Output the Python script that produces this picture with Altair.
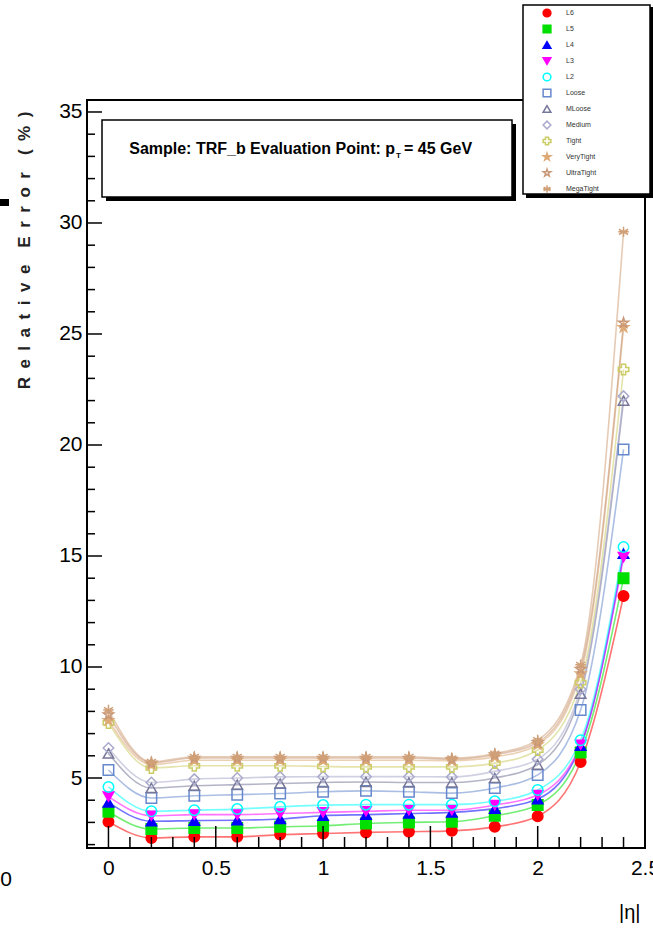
import altair as alt
import pandas as pd

# ---------------- data ----------------
eta = [0.0, 0.2, 0.4, 0.6, 0.8, 1.0, 1.2, 1.4, 1.6, 1.8, 2.0, 2.2, 2.4]
series = ["L6", "L5", "L4", "L3", "L2", "Loose", "MLoose", "Medium",
          "Tight", "VeryTight", "UltraTight", "MegaTight"]

L6 = [3.03, 2.30, 2.35, 2.35, 2.45, 2.50, 2.55, 2.58, 2.62, 2.80, 3.28, 5.72, 13.2]
L5 = [3.48, 2.70, 2.75, 2.75, 2.80, 2.85, 2.95, 3.00, 3.03, 3.30, 3.78, 6.15, 14.0]
L4 = [3.90, 3.05, 3.08, 3.10, 3.15, 3.30, 3.35, 3.40, 3.45, 3.62, 4.05, 6.45, 15.1]
L3 = [4.16, 3.30, 3.35, 3.35, 3.40, 3.45, 3.50, 3.55, 3.55, 3.78, 4.23, 6.50, 14.95]
L2 = [4.60, 3.50, 3.55, 3.60, 3.70, 3.78, 3.80, 3.80, 3.80, 3.95, 4.46, 6.70, 15.4]
Loose = [5.36, 4.10, 4.20, 4.25, 4.30, 4.38, 4.42, 4.38, 4.32, 4.55, 5.14, 8.06, 19.8]
MLoose = [6.10, 4.55, 4.65, 4.70, 4.75, 4.80, 4.82, 4.80, 4.80, 5.00, 5.60, 8.80, 22.0]
Medium = [6.35, 4.80, 4.95, 5.00, 5.05, 5.06, 5.06, 5.06, 5.05, 5.30, 5.85, 9.00, 22.2]
Tight = [7.48, 5.45, 5.55, 5.55, 5.55, 5.52, 5.50, 5.50, 5.50, 5.67, 6.26, 9.30, 23.4]
VeryTight = [7.60, 5.60, 5.80, 5.80, 5.80, 5.80, 5.80, 5.80, 5.78, 5.95, 6.50, 9.70, 25.3]
UltraTight = [7.85, 5.68, 5.90, 5.90, 5.90, 5.90, 5.90, 5.90, 5.85, 6.05, 6.60, 9.90, 25.5]
MegaTight = [8.06, 5.73, 5.96, 5.96, 5.96, 5.96, 5.96, 5.96, 5.89, 6.10, 6.71, 10.1, 29.6]

values = [L6, L5, L4, L3, L2, Loose, MLoose, Medium, Tight, VeryTight, UltraTight, MegaTight]

x_major = [0, 0.5, 1, 1.5, 2, 2.5]
x_minor = [-0.1, 0.1, 0.2, 0.3, 0.4, 0.6, 0.7, 0.8, 0.9, 1.1, 1.2, 1.3, 1.4,
           1.6, 1.7, 1.8, 1.9, 2.1, 2.2, 2.3, 2.4]
y_major = [5, 10, 15, 20, 25, 30, 35]
y_minor = [2, 3, 4, 6, 7, 8, 9, 11, 12, 13, 14, 16, 17, 18, 19, 21, 22, 23, 24,
           26, 27, 28, 29, 31, 32, 33, 34]

# ---------------- styles ----------------
colors = ["#ff0000", "#00e000", "#0000ff", "#ff00ff", "#00ffff", "#6688cc",
          "#777799", "#aaaacc", "#cccc66", "#ddaa77", "#c89878", "#d0a078"]
STAR = ("M0,-1L0.223,-0.307L0.951,-0.309L0.361,0.117L0.588,0.809L0,0.38"
        "L-0.588,0.809L-0.361,0.117L-0.951,-0.309L-0.223,-0.307Z")
ASTER = "M0,-1L0,1M-0.87,-0.5L0.87,0.5M-0.87,0.5L0.87,-0.5M-1,0L1,0"
shapes = ["circle", "square", "triangle-up", "triangle-down", "circle", "square",
          "triangle-up", "diamond", "cross", STAR, STAR, ASTER]
fills = ["#ff0000", "#00e000", "#0000ff", "#ff00ff", "transparent", "transparent",
         "transparent", "transparent", "transparent", "#ddaa77", "transparent", "transparent"]

SANS = "'Liberation Sans', Arial, sans-serif"

W, H = 558, 748

rows = []
for name, vals in zip(series, values):
    for e, v in zip(eta, vals):
        rows.append({"eta": e, "err": v, "series": name})
df = pd.DataFrame(rows)

xs = alt.Scale(domain=[-0.1, 2.5], nice=False, zero=False)
ys = alt.Scale(domain=[1.847, 35.54], nice=False, zero=False)
cscale = alt.Scale(domain=series, range=colors)
sscale = alt.Scale(domain=series, range=shapes)
fscale = alt.Scale(domain=series, range=fills)

EN = "\u2002"
ytitle = (EN.join(list("Relative")) + EN + EN + EN.join(list("Error")) + EN + EN + EN.join(list("(%)")))

xaxis = alt.Axis(values=x_major, format="~g", ticks=False, tickSize=0, domain=False, grid=False,
                 labelFont=SANS, labelFontSize=21, labelPadding=9, labelColor="black",
                 labelFlush=False, labelOverlap=False, zindex=2,
                 title="|η|", titleFont=SANS, titleFontSize=20, titleFontWeight="normal",
                 titleX=553, titleY=64, titleAlign="right", titleBaseline="middle",
                 titleColor="black")
yaxis = alt.Axis(values=y_major, ticks=False, tickSize=0, domain=False, grid=False,
                 labelFont=SANS, labelFontSize=21, labelPadding=5, labelColor="black",
                 labelOverlap=False, labelFlush=False, zindex=2,
                 title=ytitle, titleFont=SANS, titleFontSize=17, titleFontWeight="bold",
                 titleAngle=270, titleX=-63, titleY=150, titleAlign="center",
                 titleBaseline="middle", titleColor="#222222")

legend = alt.Legend(title=None, orient="none", legendX=455, legendY=-92, padding=0,
                    labelFont=SANS, labelFontSize=7, labelColor="#333333", labelOffset=14,
                    symbolSize=60, symbolStrokeWidth=1.5, symbolOpacity=1, rowPadding=2, zindex=3)

X = lambda f: alt.X(f, scale=xs, axis=xaxis, title="|η|")
Y = lambda f: alt.Y(f, scale=ys, axis=yaxis, title=ytitle)

base = alt.Chart(df)
lines = base.mark_line(interpolate="monotone", strokeWidth=1.6, opacity=0.55).encode(
    x=X("eta:Q"),
    y=Y("err:Q"),
    color=alt.Color("series:N", scale=cscale, legend=legend, sort=series),
    detail="series:N",
)
points = base.mark_point(size=110, strokeWidth=1.5, opacity=1).encode(
    x=X("eta:Q"),
    y=Y("err:Q"),
    color=alt.Color("series:N", scale=cscale, legend=legend, sort=series),
    fill=alt.Fill("series:N", scale=fscale, legend=legend, sort=series),
    shape=alt.Shape("series:N", scale=sscale, legend=legend, sort=series),
)

# inward ticks (ROOT style)
xmaj = alt.Chart(pd.DataFrame({"v": x_major})).mark_rule(color="black", strokeWidth=1.5).encode(
    x=X("v:Q"), y=alt.value(H), y2=alt.value(H - 22))
xmin = alt.Chart(pd.DataFrame({"v": x_minor})).mark_rule(color="black", strokeWidth=1.5).encode(
    x=X("v:Q"), y=alt.value(H), y2=alt.value(H - 11))
ymaj = alt.Chart(pd.DataFrame({"v": y_major})).mark_rule(color="black", strokeWidth=1.5).encode(
    y=Y("v:Q"), x=alt.value(0), x2=alt.value(15))
ymin = alt.Chart(pd.DataFrame({"v": y_minor})).mark_rule(color="black", strokeWidth=1.5).encode(
    y=Y("v:Q"), x=alt.value(0), x2=alt.value(8))

one = pd.DataFrame({"a": [0]})
def box(x1, y1, x2, y2, fill, stroke=None, sw=0):
    kw = dict(fill=fill)
    if stroke:
        kw.update(stroke=stroke, strokeWidth=sw)
    return alt.Chart(one).mark_rect(**kw).encode(
        x=alt.value(x1), x2=alt.value(x2), y=alt.value(y1), y2=alt.value(y2))

# coordinates relative to plot origin (87, 100)
leg_shadow = box(439, -93, 566, 98, "black")
leg_box = box(436, -95, 563, 94, "white", "black", 1.5)
tit_shadow = box(19, 24, 429, 101, "black")
tit_box = box(15, 20, 425, 97, "white", "black", 1.5)

def txt(s, x, y, size, align="left", weight="bold", font=SANS, baseline="alphabetic", color="black"):
    return alt.Chart(one).mark_text(text=s, align=align, baseline=baseline, font=font,
                                    fontSize=size, fontWeight=weight, color=color).encode(
        x=alt.value(x), y=alt.value(y))

t1 = txt("Sample: TRF_b Evaluation Point: p", 308, 54, 16, align="right")
t2 = txt("T", 309, 58, 8)
t3 = txt("= 45 GeV", 317, 54, 16)

stray0 = txt("0", -81, 780, 21, align="center", weight="normal", baseline="middle")
stray_dash = box(-87, 99, -78, 106, "black")

chart = alt.layer(
    leg_shadow, leg_box, tit_shadow, tit_box, t1, t2, t3, stray0, stray_dash,
    lines, points, xmaj, xmin, ymaj, ymin,
).properties(
    width=W, height=H,
    autosize=alt.AutoSizeParams(type="none"),
    padding={"left": 87, "top": 100, "right": 8, "bottom": 80},
).configure_view(stroke="black", strokeWidth=2)

chart.save("out.html", embed_options={"renderer": "svg", "actions": False})
